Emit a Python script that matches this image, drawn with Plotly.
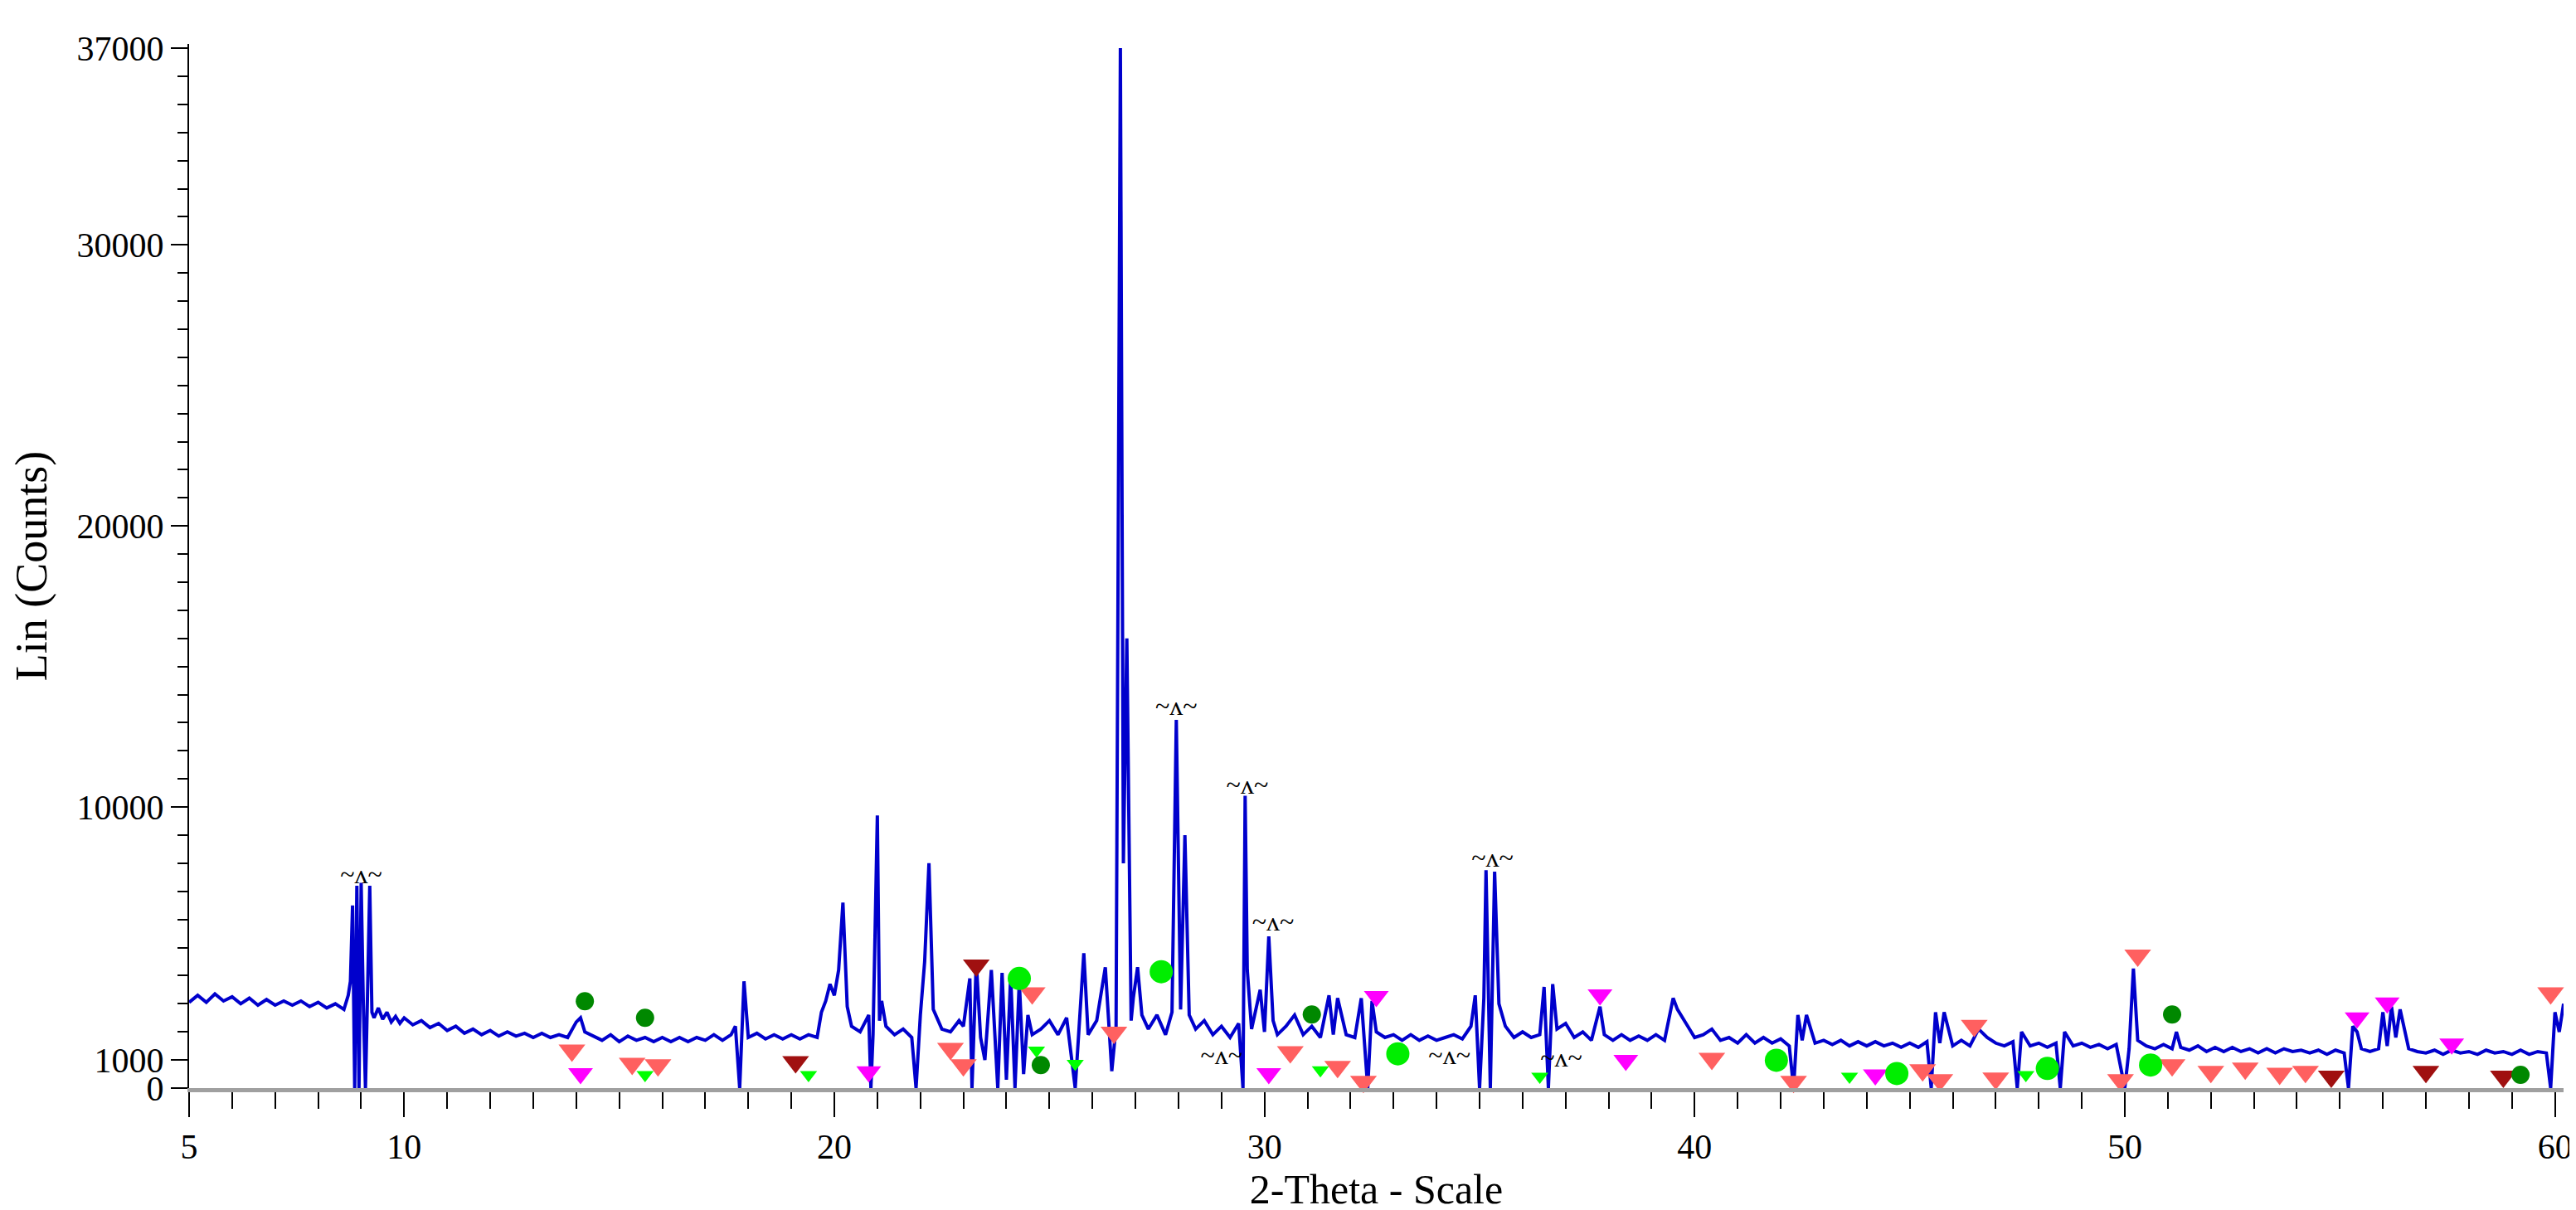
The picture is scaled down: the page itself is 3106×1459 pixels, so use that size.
import plotly.graph_objects as go

two_theta = [
    5.0, 5.2, 5.4, 5.6, 5.8, 6.0, 6.2, 6.4, 6.6, 6.8, 7.0, 7.2, 7.4, 7.6, 7.8, 8.0, 8.2, 8.4, 8.6,
    8.7, 8.75, 8.8, 8.85, 8.9, 8.95, 9.0, 9.05, 9.1, 9.15, 9.2, 9.25, 9.3, 9.4, 9.5, 9.6, 9.7, 9.8, 9.9,
    10.0, 10.2, 10.4, 10.6, 10.8, 11.0, 11.2, 11.4, 11.6, 11.8, 12.0, 12.2, 12.4, 12.6, 12.8, 13.0,
    13.2, 13.4, 13.6, 13.8, 14.0, 14.1, 14.2, 14.4, 14.6, 14.8, 15.0, 15.2, 15.4, 15.6, 15.8, 16.0,
    16.2, 16.4, 16.6, 16.8, 17.0, 17.2, 17.4, 17.6, 17.7, 17.8, 17.9, 18.0, 18.2, 18.4, 18.6, 18.8,
    19.0, 19.2, 19.4, 19.6, 19.7, 19.8, 19.9, 20.0, 20.1, 20.2, 20.3, 20.4, 20.6, 20.8, 20.85, 20.9,
    21.0, 21.05, 21.1, 21.2, 21.4, 21.6, 21.8, 21.9, 22.0, 22.1, 22.2, 22.3, 22.5, 22.7, 22.9, 23.0,
    23.15, 23.2, 23.3, 23.4, 23.5, 23.65, 23.8, 23.9, 24.0, 24.1, 24.2, 24.3, 24.4, 24.5, 24.6, 24.8,
    25.0, 25.2, 25.4, 25.6, 25.7, 25.8, 25.9, 26.1, 26.3, 26.45, 26.55, 26.65, 26.72, 26.8, 26.9,
    26.95, 27.05, 27.15, 27.3, 27.5, 27.7, 27.85, 27.95, 28.05, 28.15, 28.25, 28.4, 28.6, 28.8, 29.0,
    29.2, 29.4, 29.5, 29.55, 29.6, 29.7, 29.9, 30.0, 30.1, 30.2, 30.3, 30.5, 30.7, 30.9, 31.1, 31.3,
    31.5, 31.6, 31.7, 31.9, 32.1, 32.25, 32.4, 32.5, 32.6, 32.8, 33.0, 33.2, 33.4, 33.6, 33.8, 34.0,
    34.2, 34.4, 34.6, 34.8, 34.9, 35.0, 35.1, 35.15, 35.25, 35.35, 35.45, 35.6, 35.8, 36.0, 36.2,
    36.4, 36.5, 36.6, 36.7, 36.8, 37.0, 37.2, 37.4, 37.6, 37.8, 37.9, 38.1, 38.3, 38.5, 38.7, 38.9,
    39.1, 39.3, 39.5, 39.6, 39.8, 40.0, 40.2, 40.4, 40.6, 40.8, 41.0, 41.2, 41.4, 41.6, 41.8, 42.0,
    42.2, 42.3, 42.4, 42.5, 42.6, 42.8, 43.0, 43.2, 43.4, 43.6, 43.8, 44.0, 44.2, 44.4, 44.6, 44.8,
    45.0, 45.2, 45.4, 45.5, 45.6, 45.7, 45.8, 46.0, 46.2, 46.4, 46.6, 46.8, 47.0, 47.2, 47.4, 47.5,
    47.6, 47.8, 48.0, 48.2, 48.4, 48.5, 48.6, 48.8, 49.0, 49.2, 49.4, 49.6, 49.8, 50.0, 50.1, 50.2,
    50.3, 50.5, 50.7, 50.9, 51.1, 51.2, 51.3, 51.5, 51.7, 51.9, 52.1, 52.3, 52.5, 52.7, 52.9, 53.1,
    53.3, 53.5, 53.7, 53.9, 54.1, 54.3, 54.5, 54.7, 54.9, 55.1, 55.2, 55.3, 55.4, 55.5, 55.7, 55.9,
    56.0, 56.1, 56.2, 56.3, 56.4, 56.6, 56.8, 57.0, 57.2, 57.4, 57.6, 57.8, 58.0, 58.2, 58.4, 58.6,
    58.8, 59.0, 59.2, 59.4, 59.6, 59.8, 59.9, 60.0, 60.1, 60.2,
]
counts = [
    3050, 3300, 3050, 3350, 3100, 3250, 3000, 3200, 2950, 3150, 2950, 3100, 2950, 3100, 2900, 3050, 2850, 3000, 2800,
    3300, 3800, 6500, 0, 7200, 0, 7300, 3000, 0, 3500, 7200, 2700, 2500, 2850, 2450, 2700, 2350, 2550, 2300,
    2500, 2250, 2400, 2150, 2300, 2050, 2200, 1950, 2100, 1900, 2050, 1850, 2000, 1850, 1950, 1800,
    1950, 1800, 1900, 1800, 2350, 2500, 2000, 1850, 1700, 1900, 1650, 1850, 1700, 1800, 1650, 1800,
    1650, 1800, 1650, 1800, 1700, 1900, 1700, 1900, 2200, 0, 3800, 1800, 1950, 1750, 1900, 1750,
    1900, 1750, 1900, 1800, 2700, 3100, 3700, 3300, 4200, 6600, 2900, 2200, 2000, 2600, 0, 1900,
    9700, 2400, 3100, 2200, 1900, 2100, 1800, 0, 2600, 4500, 8000, 2800, 2100, 2000, 2400, 2200,
    3900, 0, 4500, 1800, 1000, 4200, 0, 4100, 300, 4000, 0, 3800, 500, 2600, 1900, 2100,
    2400, 1900, 2500, 0, 2200, 4800, 1900, 2400, 4300, 600, 2200, 37000, 8000, 16000, 2400,
    3200, 4300, 2600, 2100, 2600, 1900, 2700, 13100, 2800, 9000, 2600, 2100, 2400, 1900, 2200,
    1800, 2300, 0, 10400, 4200, 2100, 3500, 2000, 5400, 2400, 1900, 2200, 2600, 1900, 2200, 1800,
    3300, 1900, 3200, 1900, 1800, 3200, 0, 3100, 2000, 1800, 1900, 1700, 1900, 1700, 1850, 1700,
    1800, 1900, 1750, 2200, 3300, 0, 3200, 7750, 0, 7700, 3000, 2200, 1800, 2000, 1800,
    1900, 3600, 0, 3700, 2100, 2300, 1800, 2000, 1700, 2900, 1900, 1700, 1900, 1700, 1850, 1700,
    1900, 1700, 3200, 2800, 2300, 1800, 1900, 2100, 1700, 1800, 1600, 1900, 1600, 1800, 1600, 1750,
    1500, 0, 2600, 1700, 2600, 1600, 1700, 1550, 1700, 1500, 1650, 1500, 1650, 1500, 1600, 1450,
    1600, 1450, 1650, 0, 2700, 1600, 2700, 1500, 1700, 1500, 2100, 1800, 1600, 1500, 1650, 0,
    2000, 1500, 1600, 1450, 1600, 0, 2000, 1500, 1600, 1450, 1550, 1400, 1550, 0, 1400, 4250,
    1700, 1500, 1400, 1550, 1400, 2000, 1450, 1350, 1500, 1300, 1450, 1300, 1450, 1300, 1400, 1250,
    1400, 1250, 1400, 1300, 1350, 1250, 1350, 1200, 1350, 1250, 0, 2200, 2000, 1400, 1300, 1400,
    2700, 1500, 2900, 1800, 2800, 1400, 1300, 1250, 1350, 1200, 1350, 1250, 1300, 1200, 1350, 1250,
    1300, 1200, 1350, 1200, 1300, 1250, 0, 2700, 2000, 3000,
]

# phase markers (2-theta, counts)
salmon_x = [26.75, 13.9, 15.3, 15.9, 22.7, 23.0, 24.6, 26.5, 30.6, 31.7, 32.3, 40.4, 42.3, 45.3, 45.7,
            46.5, 47.0, 49.9, 50.3, 51.1, 52.0, 52.8, 53.6, 54.2, 59.9]
salmon_y = [37350, 1340, 870, 820, 1400, 820, 3380, 1980, 1280, 760, 230, 1050, 230, 640, 290,
            2220, 350, 290, 4720, 820, 580, 700, 520, 580, 3380]
magenta_x = [14.1, 20.8, 30.1, 32.6, 37.8, 38.4, 44.2, 55.4, 56.1, 57.6]
magenta_y = [520, 580, 520, 3260, 3320, 990, 470, 2500, 3030, 1570]
lime_tri_x = [15.6, 19.4, 24.7, 25.6, 31.3, 36.4, 43.6, 47.7]
lime_tri_y = [470, 470, 1340, 870, 640, 410, 410, 470]
darkred_x = [19.1, 23.3, 54.8, 57.0, 58.8]
darkred_y = [930, 4370, 410, 580, 410]
darkgreen_x = [14.2, 15.6, 24.8, 31.1, 51.1, 59.2]
darkgreen_y = [3090, 2500, 820, 2620, 2620, 470]
lime_dot_x = [24.3, 27.6, 33.1, 41.9, 44.7, 48.2, 50.6]
lime_dot_y = [3900, 4140, 1220, 990, 520, 700, 820]
wave_x = [9.0, 27.95, 29.6, 30.2, 35.3, 29.0, 34.3, 36.9]
wave_y = [7520, 13500, 10700, 5830, 8100, 1100, 1100, 990]

y_ticks = [0, 1000, 10000, 20000, 30000, 37000]
x_ticks = [5, 10, 20, 30, 40, 50, 60]

serif = "Liberation Serif, Times New Roman, serif"

fig = go.Figure()
fig.add_trace(go.Scatter(x=two_theta, y=counts, mode="lines",
                         line=dict(color="#0000CC", width=4), showlegend=False))


def add_markers(xs, ys, symbol, color, size):
    fig.add_trace(go.Scatter(x=xs, y=ys, mode="markers", cliponaxis=False, showlegend=False,
                             marker=dict(symbol=symbol, color=color, size=size, line=dict(width=0))))


add_markers(salmon_x, salmon_y, "triangle-down", "#FF6060", 28)
add_markers(magenta_x, magenta_y, "triangle-down", "#FF00FF", 26)
add_markers(lime_tri_x, lime_tri_y, "triangle-down", "#00FF00", 18)
add_markers(darkred_x, darkred_y, "triangle-down", "#A01010", 28)
add_markers(darkgreen_x, darkgreen_y, "circle", "#008800", 22)
add_markers(lime_dot_x, lime_dot_y, "circle", "#00EE00", 28)

fig.add_trace(go.Scatter(x=wave_x, y=wave_y, mode="text", text=["~\u028c~"] * len(wave_x),
                         textfont=dict(family=serif, size=32, color="black"),
                         cliponaxis=False, showlegend=False))

fig.update_layout(
    width=3106, height=1459,
    margin=dict(l=220, r=20, t=45, b=155),
    plot_bgcolor="white", paper_bgcolor="white",
    font=dict(family=serif, size=42, color="black"),
)
fig.update_xaxes(
    range=[5, 60.2], tickvals=x_ticks, ticks="outside", ticklen=30,
    tickwidth=2, tickcolor="black", showline=True, linecolor="#A0A0A0", linewidth=5,
    showgrid=False, zeroline=False,
    minor=dict(dtick=1, ticks="outside", ticklen=20, tickwidth=2, tickcolor="black"),
    title=dict(text="2-Theta - Scale", font=dict(size=50), standoff=2),
)
fig.update_yaxes(
    range=[0, 37150], tickvals=y_ticks, ticktext=[str(v) for v in y_ticks], ticks="outside",
    ticklen=20, tickwidth=2, tickcolor="black", showline=True, linecolor="black", linewidth=2,
    showgrid=False, zeroline=False,
    minor=dict(dtick=1000, ticks="outside", ticklen=12, tickwidth=2, tickcolor="black"),
    title=dict(text="Lin (Counts)", font=dict(size=54), standoff=20),
)

fig.write_html("out.html")
